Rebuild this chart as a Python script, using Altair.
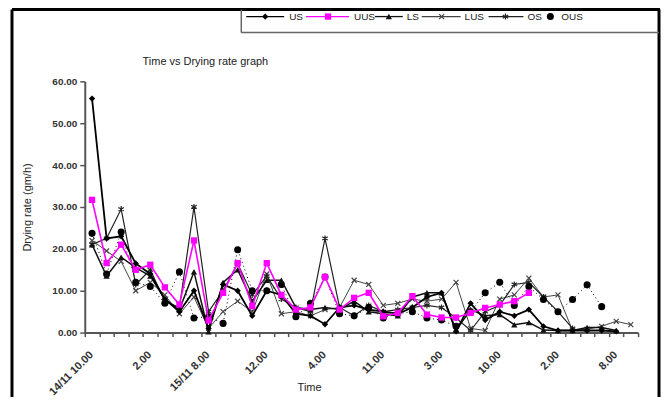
import json
import altair as alt
import pandas as pd

# ---------------- data ----------------
time_labels = [
    "14/11 10.00", "11.00", "12.00", "1.00", "2.00", "3.00", "4.00", "5.00",
    "15/11 8.00", "9.00", "10.00", "11.00", "12.00", "1.00", "2.00", "3.00",
    "4.00", "5.00", "16/11 9.00", "10.00", "11.00", "12.00", "1.00", "2.00",
    "3.00", "4.00", "5.00", "17/11 9.00", "10.00", "11.00", "12.00", "1.00",
    "2.00", "3.00", "4.00", "5.00", "8.00", "9.00",
]

series_names = ["US", "UUS", "LS", "LUS", "OS", "OUS"]

us = [55.9, 22.5, 23.0, 16.5, 14.0, 8.0, 5.0, 10.0, 1.0, 11.5, 10.0, 4.0, 10.0,
      9.0, 4.5, 4.0, 2.0, 6.0, 6.5, 5.5, 5.0, 4.5, 6.0, 8.5, 9.5, 0.3, 7.0, 3.0,
      5.0, 4.0, 5.5, 1.5, 0.5, 0.5, 0.5, 0.5, 0.3]
uus = [31.7, 16.6, 21.0, 15.0, 16.2, 10.8, 6.7, 22.0, 2.9, 9.5, 16.6, 6.3, 16.6,
       9.0, 5.5, 6.0, 13.3, 5.5, 8.3, 9.5, 3.9, 4.7, 8.7, 4.3, 3.6, 3.6, 4.7, 5.9,
       6.7, 7.5, 9.5]
ls = [21.0, 13.5, 18.0, 15.5, 13.5, 8.0, 5.5, 14.5, 0.2, 12.0, 15.0, 7.5, 12.5,
      12.5, 6.0, 5.5, 6.0, 5.5, 7.5, 5.0, 4.5, 4.0, 8.5, 9.5, 9.5, 0.5, 5.5, 4.0,
      4.3, 1.9, 2.4, 0.6, 0.5, 0.5, 1.2, 1.2, 0.5]
lus = [22.0, 19.5, 17.0, 10.0, 12.0, 9.0, 4.5, 8.5, 1.0, 5.0, 7.5, 5.0, 14.0,
       4.5, 5.0, 4.0, 5.5, 6.0, 12.5, 11.5, 6.5, 7.0, 8.0, 7.5, 8.0, 12.0, 1.0,
       0.5, 8.0, 9.0, 13.0, 8.5, 9.0, 0.5, 0.8, 1.5, 2.7, 1.9]
os_ = [21.0, 22.5, 29.5, 11.5, 15.0, 7.5, 6.0, 30.0, 5.0, 10.0, 16.5, 9.0, 13.5,
       8.0, 6.0, 5.0, 22.5, 6.0, 4.0, 6.5, 5.0, 5.5, 6.0, 6.5, 6.0, 3.5, 0.5, 5.0,
       6.5, 11.5, 12.0, 8.5, 5.0, 1.0]
ous = [23.7, 14.0, 24.0, 12.0, 11.0, 7.0, 14.5, 3.5, 3.8, 2.2, 19.8, 10.0, 10.0,
       11.5, 3.8, 7.0, 13.3, 4.5, 4.0, 6.0, 3.5, 4.5, 5.0, 3.5, 3.0, 1.5, 5.0, 9.5,
       12.0, 6.5, 11.0, 7.9, 5.0, 7.9, 11.4, 6.2]

values = {"US": us, "UUS": uus, "LS": ls, "LUS": lus, "OS": os_, "OUS": ous}

rows = []
for name in series_names:
    for i, v in enumerate(values[name]):
        rows.append({"idx": i, "series": name, "rate": v})
df = pd.DataFrame(rows)

# ---------------- styling ----------------
FONT = "Liberation Sans Narrow, Liberation Sans, Arial"
W, H = 555, 252
n = len(time_labels)
band = W / n

shown = [lab if i % 4 == 0 else "" for i, lab in enumerate(time_labels)]
label_expr = json.dumps(shown) + "[datum.value + 0.5] || ''"

X = alt.X(
    "idx:Q",
    scale=alt.Scale(domain=[-0.5, n - 0.5], nice=False, zero=False),
    axis=alt.Axis(
        values=[i - 0.5 for i in range(n + 1)],
        labelExpr=label_expr,
        labelAngle=-45,
        labelAlign="right",
        labelBaseline="top",
        labelOffset=band / 2 - 5,
        labelPadding=12,
        labelOverlap=False,
        labelFont=FONT,
        labelFontSize=11,
        labelFontWeight="bold",
        labelColor="#333",
        tickSize=4,
        tickColor="#555",
        tickWidth=1.5,
        domainColor="#555",
        domainWidth=2,
        grid=False,
        title="Time",
        titleFont=FONT,
        titleFontSize=11,
        titleFontWeight="normal",
        titleColor="#222",
        titleX=225,
        titleY=55,
        titleAlign="center",
        titleBaseline="middle",
    ),
)
Y = alt.Y(
    "rate:Q",
    scale=alt.Scale(domain=[0, 60], nice=False),
    axis=alt.Axis(
        values=[0, 10, 20, 30, 40, 50, 60],
        format=".2f",
        labelFont=FONT,
        labelFontSize=10,
        labelFontWeight="bold",
        labelColor="#333",
        labelPadding=3,
        tickSize=5,
        tickColor="#555",
        tickWidth=1.5,
        domainColor="#555",
        domainWidth=2,
        grid=False,
        title="Drying rate (gm/h)",
        titleFont=FONT,
        titleFontSize=11,
        titleFontWeight="normal",
        titleColor="#222",
        titleAngle=-90,
        titleX=-57,
        titleY=H / 2,
        titleAlign="center",
        titleBaseline="middle",
    ),
)

X_PATH = "M-1,-1L1,1M-1,1L1,-1"
STAR_PATH = "M0,-1.1L0,1.1M-1,-0.6L1,0.6M-1,0.6L1,-0.6"

styles = {
    "US": dict(color="#000000", width=1.8, dash=None, shape="diamond", filled=True, size=40),
    "UUS": dict(color="#ff00ff", width=1.6, dash=None, shape="square", filled=True, size=40),
    "LS": dict(color="#111111", width=1.5, dash=None, shape="triangle-up", filled=True, size=40),
    "LUS": dict(color="#444444", width=1.0, dash=None, shape=X_PATH, filled=False, size=25),
    "OS": dict(color="#222222", width=1.2, dash=None, shape=STAR_PATH, filled=False, size=30),
    "OUS": dict(color="#000000", width=1.0, dash=[1, 3], shape="circle", filled=True, size=50),
}

draw_order = ["LUS", "OS", "OUS", "LS", "US", "UUS"]

base = alt.Chart(df).encode(x=X, y=Y)
layers = []
for name in draw_order:
    st = styles[name]
    b = base.transform_filter(alt.datum.series == name)
    line_kw = dict(color=st["color"], strokeWidth=st["width"])
    if st["dash"]:
        line_kw["strokeDash"] = st["dash"]
    layers.append(b.mark_line(**line_kw))
    pt_kw = dict(shape=st["shape"], size=st["size"], color=st["color"], opacity=1,
                 filled=st["filled"])
    if not st["filled"]:
        pt_kw["strokeWidth"] = 1.2
    layers.append(b.mark_point(**pt_kw))

# ---------------- frame, title, legend ----------------
one = pd.DataFrame({"k": [0]})
frame_col = "#000000"
layers.append(alt.Chart(one).mark_rule(color=frame_col, strokeWidth=3).encode(
    x=alt.value(-73), y=alt.value(-72), y2=alt.value(330)))
layers.append(alt.Chart(one).mark_rule(color=frame_col, strokeWidth=3).encode(
    x=alt.value(-73), x2=alt.value(577), y=alt.value(-72)))
layers.append(alt.Chart(one).mark_rule(color=frame_col, strokeWidth=3).encode(
    x=alt.value(576), y=alt.value(-72), y2=alt.value(330)))
# legend box
layers.append(alt.Chart(one).mark_rule(color="#666", strokeWidth=1.5).encode(
    x=alt.value(157), y=alt.value(-72), y2=alt.value(-49)))
layers.append(alt.Chart(one).mark_rule(color="#666", strokeWidth=1.5).encode(
    x=alt.value(157), x2=alt.value(576), y=alt.value(-49)))

title_df = pd.DataFrame({"t": ["Time vs Drying rate graph"]})
layers.append(alt.Chart(title_df).mark_text(
    align="left", baseline="middle", font=FONT, fontSize=11, color="#222").encode(
    text="t:N", x=alt.value(58), y=alt.value(-19)))

legend_pos = {  # line start, line end, marker x, text x
    "US": (162, 200, 181, 205),
    "UUS": (222, 265, 244, 270),
    "LS": (291, 319, 305, 323),
    "LUS": (338, 377, 358, 381),
    "OS": (405, 440, 422, 444),
    "OUS": (None, None, 467, 478),
}
LY = -65
for name in series_names:
    st = styles[name]
    x1, x2, xm, xt = legend_pos[name]
    item = pd.DataFrame({"series": [name]})
    if x1 is not None:
        layers.append(alt.Chart(item).mark_rule(color=st["color"], strokeWidth=1.3).encode(
            x=alt.value(x1), x2=alt.value(x2), y=alt.value(LY)))
    pt_kw = dict(shape=st["shape"], size=st["size"], color=st["color"], opacity=1,
                 filled=st["filled"])
    if not st["filled"]:
        pt_kw["strokeWidth"] = 1.2
    layers.append(alt.Chart(item).mark_point(**pt_kw).encode(
        x=alt.value(xm), y=alt.value(LY)))
    layers.append(alt.Chart(item).mark_text(
        align="left", baseline="middle", font=FONT, fontSize=10, color="#222").encode(
        text="series:N", x=alt.value(xt), y=alt.value(LY)))

chart = alt.layer(*layers).properties(
    width=W,
    height=H,
    autosize=alt.AutoSizeParams(type="none"),
    padding={"left": 77, "top": 73, "right": 24, "bottom": 64},
    background="white",
).configure_view(stroke=None)

chart.save("out.html", embed_options={"renderer": "svg", "actions": False})
